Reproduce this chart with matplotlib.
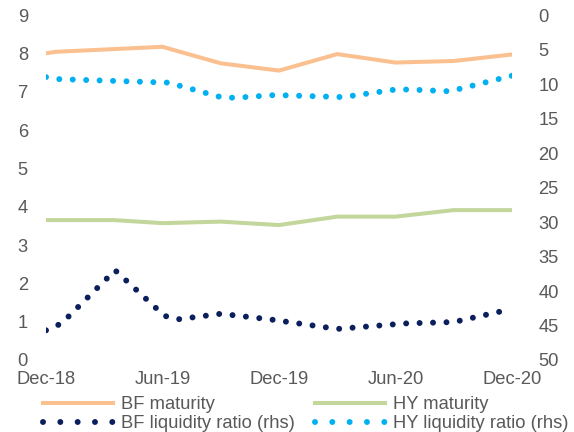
#!/usr/bin/env python3
"""
Fund maturity and liquidity ratio chart
Left axis: maturity, right axis (inverted): liquidity ratio
"""

import matplotlib
matplotlib.use('Agg')
import matplotlib.pyplot as plt
from matplotlib.lines import Line2D

# x values are months since Dec-18 at the kinks
tick_months = [0, 6, 12, 18, 24]
tick_labels = ['Dec-18', 'Jun-19', 'Dec-19', 'Jun-20', 'Dec-20']

bf_maturity_x = [0, 0.5, 6, 9, 12, 15, 18, 21, 24]
bf_maturity = [8.0, 8.04, 8.17, 7.74, 7.55, 7.98, 7.76, 7.80, 7.97]

hy_maturity_x = [0, 3.5, 6, 9, 12, 15, 18, 21, 24]
hy_maturity = [3.65, 3.65, 3.57, 3.61, 3.52, 3.74, 3.74, 3.91, 3.91]

bf_liquidity_x = [0, 0.8, 3.56, 6.1, 6.8, 9, 11.5, 15, 18.5, 21, 24]
bf_liquidity = [45.7, 44.7, 37.0, 43.6, 44.1, 43.3, 44.1, 45.5, 44.7, 44.5, 42.6]

hy_liquidity_x = [0, 0.7, 6.3, 9, 9.7, 11.8, 15.3, 18, 18.7, 20.8, 24]
hy_liquidity = [9.0, 9.3, 9.8, 11.9, 12.0, 11.6, 11.9, 10.8, 10.8, 11.06, 8.8]

ORANGE = '#FAC090'
GREEN = '#C3D69B'
NAVY = '#0A1F5C'
BLUE = '#00B0F0'
GREY = '#595959'

plt.rcParams['font.family'] = ['Liberation Sans', 'DejaVu Sans']
plt.rcParams['font.size'] = 13.2

fig = plt.figure(figsize=(5.74, 4.32), dpi=100)
ax = fig.add_axes([46 / 574, 1 - 360 / 432, (512 - 46) / 574, 345 / 432])
ax2 = ax.twinx()

# Maturity lines (lhs)
l1, = ax.plot(bf_maturity_x, bf_maturity, color=ORANGE, lw=2.9,
              label='BF maturity')
l2, = ax.plot(hy_maturity_x, hy_maturity, color=GREEN, lw=2.9,
              label='HY maturity')

# Liquidity ratios (rhs, inverted) as round dots
dots = dict(lw=4.3, linestyle=(0, (0.001, 2.25)), dash_capstyle='round')
ax2.plot(bf_liquidity_x, bf_liquidity, color=NAVY, **dots)
ax2.plot(hy_liquidity_x, hy_liquidity, color=BLUE, **dots)

# legend proxies: wider dot spacing so 5 dots show, like the original
leg_dots = dict(lw=4.3, linestyle=(0, (0.001, 2.9)), dash_capstyle='round')
l3 = Line2D([], [], color=NAVY, **leg_dots)
l4 = Line2D([], [], color=BLUE, **leg_dots)

ax.set_xlim(0, 24)
ax.set_ylim(0, 9)
ax.set_yticks(range(0, 10))
ax2.set_ylim(50, 0)
ax2.set_yticks(range(0, 51, 5))
ax.set_xticks(tick_months)
ax.set_xticklabels(tick_labels)

for a in (ax, ax2):
    for s in a.spines.values():
        s.set_visible(False)
ax.tick_params(axis='y', length=0, pad=13, colors=GREY)
ax.tick_params(axis='x', length=0, pad=8, colors=GREY)
ax2.tick_params(axis='y', length=0, pad=19, colors=GREY)

fig.legend([l1, l3, l2, l4],
           ['BF maturity', 'BF liquidity ratio (rhs)',
            'HY maturity', 'HY liquidity ratio (rhs)'],
           ncol=2, loc='upper left', bbox_to_anchor=(34 / 574, 1 - 387 / 432),
           frameon=False, borderpad=0, handlelength=3.8, handletextpad=0.45,
           columnspacing=1.1, labelspacing=0.1, labelcolor=GREY)

fig.savefig('out.png', dpi=100)
plt.close(fig)
